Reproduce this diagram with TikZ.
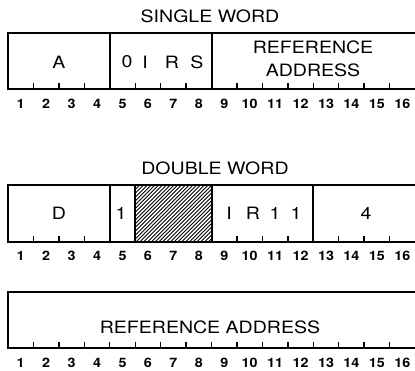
\documentclass[tikz,border=0pt]{standalone}
\usepackage{fontspec}
\setmainfont{TeX Gyre Heros}[FakeStretch=1.15]
\newfontfamily\numfont{TeX Gyre Heros}[FakeStretch=1.1]
\begin{document}
\begin{tikzpicture}[x=1pt,y=-1pt,
  frame/.style={line width=2pt},
  tick/.style={line width=1.4pt},
  title/.style={font=\fontsize{17}{18}\selectfont, inner sep=0pt},
  lbl/.style={font=\fontsize{17}{18}\selectfont, inner sep=0pt},
  bitnum/.style={font=\numfont\bfseries\fontsize{13}{14}\selectfont, inner sep=0pt},
  hatch/.style={line width=0.9pt}]
\useasboundingbox (0,0) rectangle (415,370);
\def\bw{25.44}
\def\xl{8}
% ---------- SINGLE WORD ----------
\node[title] (t1) at (210,16) {SINGLE WORD};
\coordinate (s1tl) at (\xl,33);
\coordinate (s1bl) at (\xl,89);
\draw[frame] (416,33) -- (s1tl) -- (s1bl) -- (416,89);
\draw[frame] ({\xl+4*\bw},33) -- ({\xl+4*\bw},89);
\draw[frame] ({\xl+8*\bw},33) -- ({\xl+8*\bw},89);
\foreach \i in {1,2,3,5,6,7,9,10,11,12,13,14,15}
  \draw[tick] ({\xl+\i*\bw},89) -- ++(0,-6);
\node[lbl] (a) at ({\xl+2*\bw},62) {A};
\node[lbl] (f0) at (127,62) {0};
\node[lbl] (fi) at (145,62) {I};
\node[lbl] (fr) at (172,62) {R};
\node[lbl] (fs) at (197,62) {S};
\node[lbl] (ra1) at (313,47) {REFERENCE};
\node[lbl] (ra2) at (313,70) {ADDRESS};
\foreach \i in {1,...,16}
  \node[bitnum] (n1\i) at ({\xl+(\i-0.5)*\bw},104) {\i};
% ---------- DOUBLE WORD ----------
\node[title] (t2) at (215,168) {DOUBLE WORD};
\draw[frame] (416,185) -- (\xl,185) -- (\xl,242) -- (416,242);
\foreach \i in {4,5,8,12}
  \draw[frame] ({\xl+\i*\bw},185) -- ({\xl+\i*\bw},242);
\begin{scope}
  \clip ({\xl+5*\bw},185) rectangle ({\xl+8*\bw},242);
  \foreach \k in {0,...,38}
    \draw[hatch] ({\xl+5*\bw-60+\k*3.8},242) -- ++(60,-60);
\end{scope}
\foreach \i in {1,2,3,9,10,11,13,14,15}
  \draw[tick] ({\xl+\i*\bw},242) -- ++(0,-6);
\node[lbl] (d) at ({\xl+2*\bw},213) {D};
\node[lbl] (one) at (121,213) {1};
\node[lbl] (gi) at (229,213) {I};
\node[lbl] (gr) at (253,213) {R};
\node[lbl] (g1) at (275,213) {1};
\node[lbl] (g2) at (296,213) {1};
\node[lbl] (four) at (366,213) {4};
\foreach \i in {1,...,16}
  \node[bitnum] (n2\i) at ({\xl+(\i-0.5)*\bw},256) {\i};
% ---------- SECOND WORD ----------
\draw[frame] (416,292) -- (\xl,292) -- (\xl,348) -- (416,348);
\foreach \i in {1,...,15}
  \draw[tick] ({\xl+\i*\bw},348) -- ++(0,-6);
\node[lbl] (ra3) at (210,327) {REFERENCE ADDRESS};
\foreach \i in {1,...,16}
  \node[bitnum] (n3\i) at ({\xl+(\i-0.5)*\bw},363) {\i};
\end{tikzpicture}
\end{document}
